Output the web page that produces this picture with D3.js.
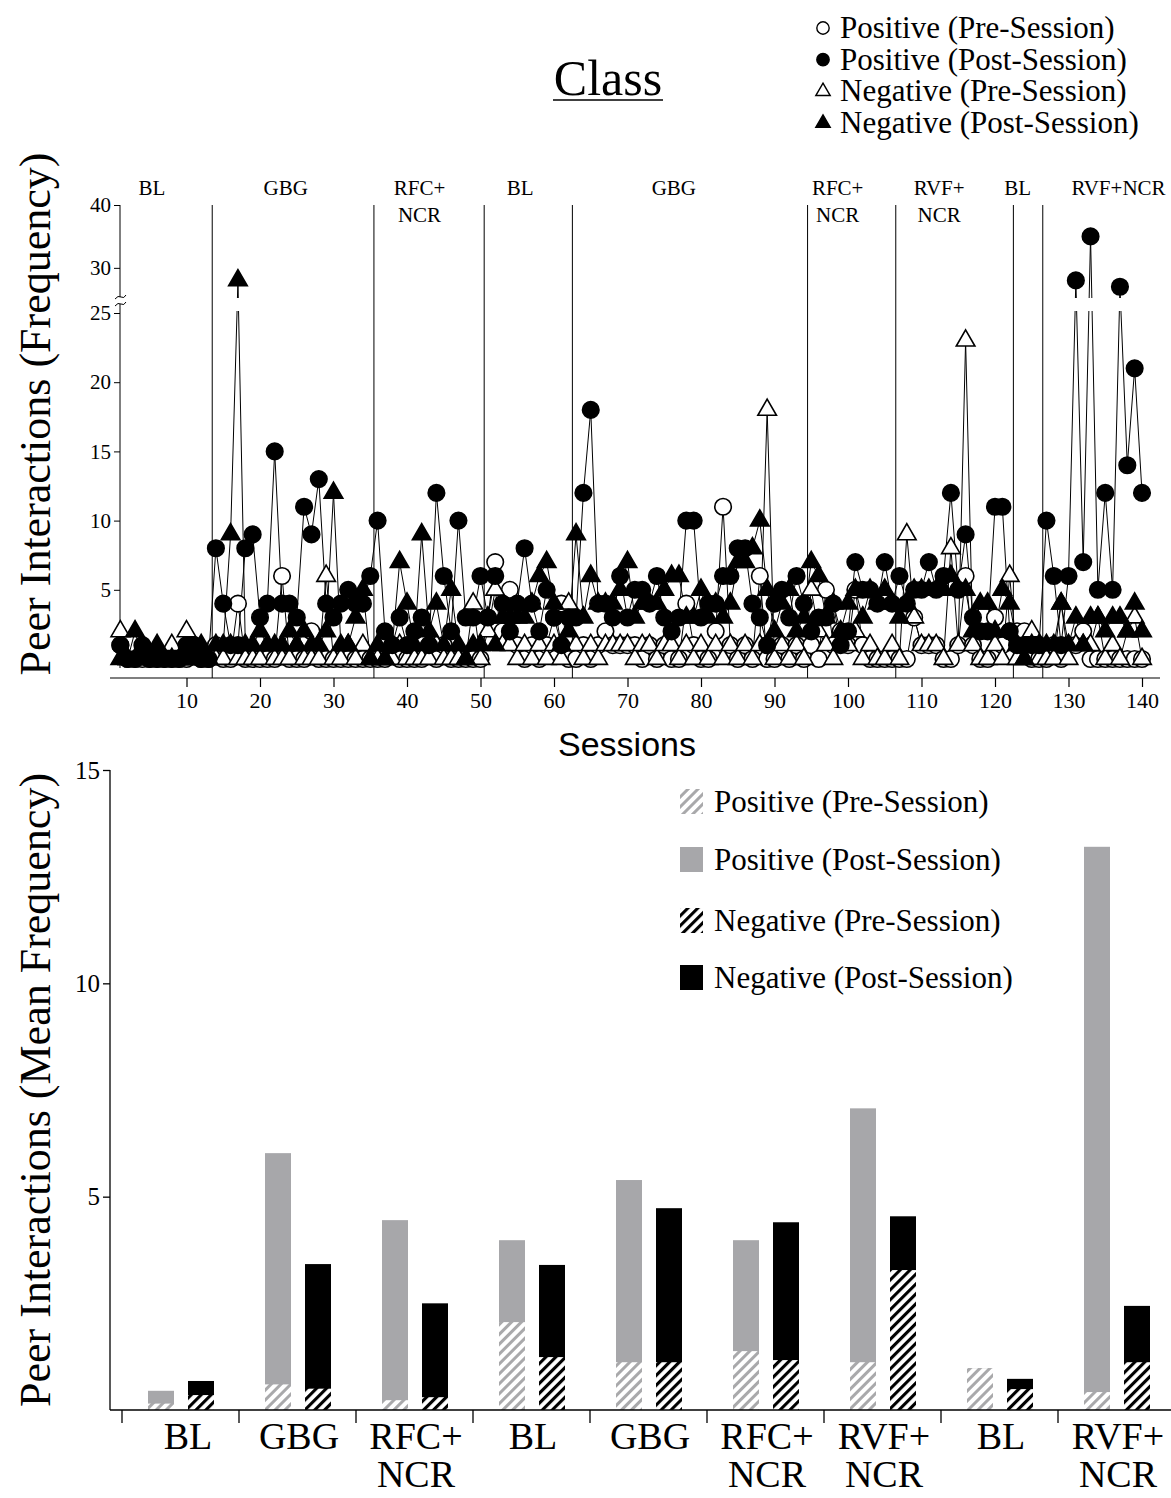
<!DOCTYPE html>
<html>
<head>
<meta charset="utf-8">
<title>Class - Peer Interactions</title>
<script src="https://cdn.jsdelivr.net/npm/d3@7"></script>
<style>
body { margin: 0; background: #fff; }
text { font-family: "Liberation Serif", "Times New Roman", serif; fill: #000; }
.sans { font-family: "Liberation Sans", Arial, sans-serif; }
</style>
</head>
<body>
<svg id="chart" width="1171" height="1498"></svg>
<script>
// ---- phases (top panel) ----
var phaseNames   = ["BL", "GBG", "RFC+|NCR", "BL", "GBG", "RFC+|NCR", "RVF+|NCR", "BL", "RVF+NCR"];
var phaseLengths = [13, 22, 15, 12, 32, 12, 16, 4, 14];
// session where each phase label sits
var phaseLabelAt = [5.3, 23.5, 41.7, 55.4, 76.3, 98.6, 112.4, 123.1, 136.8];

// ---- session data, sessions 1..140 (one line per phase) ----
var posPre = [].concat(
  [1,0,0,0,0,0,0,0,0,0,1,0,0],
  [1,0,0,4,0,0,0,0,0,6,0,0,0,2,0,0,0,0,0,0,0,0],
  [0,0,1,0,0,0,0,1,0,1,0,0,0,0,0],
  [3,7,2,5,1,0,1,0,1,3,4,0],
  [0,1,0,1,2,1,1,1,1,0,1,0,1,0,0,4,1,0,0,2,11,1,0,1,0,6,0,0,1,0,1,0],
  [1,0,5,1,2,1,5,1,0,0,0,0],
  [0,0,3,1,1,1,0,0,1,6,1,0,0,3,1,2],
  [2,2,0,0],
  [0,1,0,1,1,2,0,0,0,0,0,0,0,0]
);
var posPost = [].concat(
  [1,0,0,1,0,0,0,0,0,1,1,0,0],
  [8,4,1,1,8,9,3,4,15,4,4,3,11,9,13,4,3,4,5,4,4,6],
  [10,2,1,3,1,2,3,1,12,6,2,10,3,3,6],
  [3,6,4,2,4,8,4,2,5,3,1,3],
  [3,12,18,4,4,3,6,3,5,5,4,6,3,2,3,10,10,3,4,4,6,6,8,8,4,3,1,4,5,3,6,4],
  [2,3,3,4,1,2,7,5,5,4,7,4],
  [6,4,5,5,7,5,6,12,5,9,3,2,2,11,11,2],
  [1,1,1,1],
  [10,6,1,6,28,7,35,5,12,5,27,14,21,12]
);
var negPre = [].concat(
  [2,0,0,0,0,0,0,1,0,2,0,0,0],
  [0,0,1,0,0,0,0,1,0,0,0,1,0,0,0,6,0,0,1,0,1,0],
  [0,0,0,1,0,0,0,0,1,0,0,0,0,4,0],
  [2,5,1,1,0,1,0,1,0,1,0,4],
  [1,0,1,0,1,1,1,1,0,1,1,0,1,1,0,1,0,1,0,1,0,1,0,1,0,1,18,0,1,0,1,0],
  [5,2,1,0,1,1,2,0,1,0,0,1],
  [0,9,3,1,1,1,0,8,1,23,1,0,0,1,0,6],
  [0,0,2,0],
  [0,0,4,0,1,1,1,3,0,1,0,2,3,0]
);
var negPost = [].concat(
  [0,0,2,0,0,1,0,0,0,0,0,1,0],
  [1,1,9,28,1,1,2,1,1,1,2,1,2,1,1,2,12,1,1,3,5,0],
  [1,0,1,7,4,1,9,2,4,1,5,1,0,1,1],
  [3,1,3,3,3,3,4,6,7,4,1,2],
  [9,3,6,4,4,4,5,7,3,4,4,4,5,6,6,3,3,5,3,4,3,4,7,7,8,10,5,2,4,5,2,3],
  [7,6,3,4,2,4,5,3,5,4,5,4],
  [3,4,5,5,5,5,5,6,5,5,2,4,4,2,5,4],
  [1,0,1,1],
  [1,1,4,1,3,1,3,3,2,3,3,2,4,2]
);
var sessionTicks = [10,20,30,40,50,60,70,80,90,100,110,120,130,140];
var topYTicks = [5,10,15,20,25,30,40];

// ---- phase means (bottom panel) ----
var barPhases   = ["BL", "GBG", "RFC+|NCR", "BL", "GBG", "RFC+|NCR", "RVF+|NCR", "BL", "RVF+|NCR"];
var posPreMean  = [0.15, 0.60, 0.23, 2.06, 1.12, 1.38, 1.12, 0.98, 0.42];
var posPostMean = [0.45, 6.02, 4.45, 3.98, 5.39, 3.98, 7.07, 0.98, 13.2];
var negPreMean  = [0.35, 0.50, 0.30, 1.24, 1.12, 1.17, 3.28, 0.49, 1.12];
var negPostMean = [0.68, 3.42, 2.50, 3.40, 4.73, 4.40, 4.54, 0.73, 2.44];
var barYTicks = [5, 10, 15];

var svg = d3.select("#chart");
svg.append("rect").attr("width", 1171).attr("height", 1498).attr("fill", "#fff");

var defs = svg.append("defs");
function hatch(id, color, w) {
  var p = defs.append("pattern").attr("id", id)
    .attr("patternUnits", "userSpaceOnUse").attr("width", 7).attr("height", 7)
    .attr("patternTransform", "rotate(45)");
  p.append("rect").attr("width", 7).attr("height", 7).attr("fill", "#fff");
  p.append("line").attr("x1", 1.5).attr("y1", 0).attr("x2", 1.5).attr("y2", 7)
    .attr("stroke", color).attr("stroke-width", w);
}
hatch("hatchLight", "#a9a9ab", 3);
hatch("hatchDark", "#000", 3.2);

// clip that leaves the axis break empty
var clip = defs.append("clipPath").attr("id", "brk");
clip.append("rect").attr("x", 0).attr("y", 0).attr("width", 1171).attr("height", 298);
clip.append("rect").attr("x", 0).attr("y", 311).attr("width", 1171).attr("height", 400);

// ================= TOP PANEL =================
var x = d3.scaleLinear().domain([0, 140]).range([113, 1142]);
var y = d3.scaleLinear().domain([0, 25, 26, 40]).range([659, 313, 293, 205]);

// title + underline
svg.append("text").attr("x", 608).attr("y", 95).attr("text-anchor", "middle")
  .style("font-size", "50px").text("Class");
svg.append("line").attr("x1", 553).attr("x2", 663).attr("y1", 100).attr("y2", 100)
  .attr("stroke", "#000").attr("stroke-width", 1.5);

// phase change lines
var bounds = [], acc = 0;
phaseLengths.forEach(function(n) { bounds.push([acc + 0.5, acc + n + 0.5]); acc += n; });
svg.selectAll(".phaseLine").data(bounds.slice(1)).enter().append("line")
  .attr("x1", function(d) { return x(d[0]); }).attr("x2", function(d) { return x(d[0]); })
  .attr("y1", 205).attr("y2", 678).attr("stroke", "#000").attr("stroke-width", 1);

// phase labels
phaseNames.forEach(function(name, i) {
  name.split("|").forEach(function(t, j) {
    svg.append("text").attr("x", x(phaseLabelAt[i])).attr("y", 195 + j * 27)
      .attr("text-anchor", "middle").style("font-size", "21px").text(t);
  });
});

// axes
svg.append("line").attr("x1", 110).attr("x2", 1160).attr("y1", 678).attr("y2", 678)
  .attr("stroke", "#000").attr("stroke-width", 1.2);
var xAx = svg.append("g").attr("transform", "translate(0,678)")
  .call(d3.axisBottom(x).tickValues(sessionTicks).tickSize(9).tickPadding(5));
xAx.select(".domain").remove();
xAx.selectAll("text").style("font-size", "22px").style("font-family", "Liberation Serif, serif");
xAx.selectAll("line").attr("stroke-width", 1.2);

var yAx = svg.append("g").attr("transform", "translate(120,0)")
  .call(d3.axisLeft(y).tickValues(topYTicks).tickSize(6).tickPadding(3));
yAx.select(".domain").remove();
yAx.selectAll("text").style("font-size", "21px").style("font-family", "Liberation Serif, serif");
svg.append("line").attr("x1", 120).attr("x2", 120).attr("y1", 205).attr("y2", 297).attr("stroke", "#000");
svg.append("line").attr("x1", 120).attr("x2", 120).attr("y1", 304).attr("y2", 668).attr("stroke", "#000");
[297, 304].forEach(function(v) {
  svg.append("path").attr("d", "M115," + (v + 2) + " Q118," + (v - 2) + " 121," + v + " T126," + (v - 2))
    .attr("fill", "none").attr("stroke", "#000").attr("stroke-width", 1);
});

svg.append("text").attr("transform", "translate(50,414) rotate(-90)").attr("text-anchor", "middle")
  .style("font-size", "44px").text("Peer Interactions (Frequency)");
svg.append("text").attr("class", "sans").attr("x", 627).attr("y", 756).attr("text-anchor", "middle")
  .style("font-size", "34px").text("Sessions");

// series, in drawing order
var series = [
  { label: "Positive (Pre-Session)",  values: posPre,  shape: d3.symbolCircle,   fill: "#fff" },
  { label: "Negative (Pre-Session)",  values: negPre,  shape: d3.symbolTriangle, fill: "#fff" },
  { label: "Negative (Post-Session)", values: negPost, shape: d3.symbolTriangle, fill: "#000" },
  { label: "Positive (Post-Session)", values: posPost, shape: d3.symbolCircle,   fill: "#000" }
];
var line = d3.line().x(function(d, i) { return x(i + 1); }).y(function(d) { return y(d); });
var lineG = svg.append("g").attr("clip-path", "url(#brk)");
series.forEach(function(s) {
  lineG.append("path").attr("d", line(s.values)).attr("fill", "none")
    .attr("stroke", "#000").attr("stroke-width", 1);
});
series.forEach(function(s) {
  var sym = d3.symbol().type(s.shape).size(s.shape === d3.symbolCircle ? 215 : 150);
  svg.append("g").selectAll("path").data(s.values).enter().append("path")
    .attr("d", sym)
    .attr("transform", function(d, i) { return "translate(" + x(i + 1) + "," + y(d) + ")"; })
    .attr("fill", s.fill).attr("stroke", "#000").attr("stroke-width", 1.6);
});

// top legend
var legOrder = [0, 3, 1, 2];
legOrder.forEach(function(k, r) {
  var s = series[k], cy = 28 + r * 31.7;
  var sym = d3.symbol().type(s.shape).size(s.shape === d3.symbolCircle ? 120 : 90);
  svg.append("path").attr("d", sym).attr("transform", "translate(823," + cy + ")")
    .attr("fill", s.fill).attr("stroke", "#000").attr("stroke-width", 1.4);
  svg.append("text").attr("x", 840).attr("y", cy + 10).style("font-size", "31px").text(s.label);
});

// ================= BOTTOM PANEL =================
var x2 = d3.scaleBand().domain(d3.range(barPhases.length)).range([122, 1175]);
var y2 = d3.scaleLinear().domain([0, 15]).range([1410, 770]);
var bw = 26;

var barSets = [
  { vals: posPostMean, off: 26, fill: "#a7a7aa" },
  { vals: posPreMean,  off: 26, fill: "url(#hatchLight)" },
  { vals: negPostMean, off: 66, fill: "#000" },
  { vals: negPreMean,  off: 66, fill: "url(#hatchDark)" }
];
barSets.forEach(function(b) {
  svg.append("g").selectAll("rect").data(b.vals).enter().append("rect")
    .attr("x", function(d, i) { return x2(i) + b.off; })
    .attr("y", function(d) { return y2(d); })
    .attr("width", bw)
    .attr("height", function(d) { return y2(0) - y2(d); })
    .attr("fill", b.fill);
});

svg.append("line").attr("x1", 110).attr("x2", 1171).attr("y1", 1410).attr("y2", 1410)
  .attr("stroke", "#000").attr("stroke-width", 1.3);
svg.append("line").attr("x1", 110).attr("x2", 110).attr("y1", 770).attr("y2", 1410)
  .attr("stroke", "#000").attr("stroke-width", 1.3);
var y2Ax = svg.append("g").attr("transform", "translate(110,0)")
  .call(d3.axisLeft(y2).tickValues(barYTicks).tickSize(7).tickPadding(3));
y2Ax.select(".domain").remove();
y2Ax.selectAll("text").style("font-size", "25px").style("font-family", "Liberation Serif, serif");
y2Ax.selectAll("line").attr("stroke-width", 1.3);

svg.selectAll(".catTick").data(barPhases).enter().append("line")
  .attr("x1", function(d, i) { return x2(i); }).attr("x2", function(d, i) { return x2(i); })
  .attr("y1", 1410).attr("y2", 1423).attr("stroke", "#000").attr("stroke-width", 1.3);
barPhases.forEach(function(name, i) {
  name.split("|").forEach(function(t, j) {
    svg.append("text").attr("x", x2(i) + (i === 0 ? 66 : 60)).attr("y", 1449 + j * 38)
      .attr("text-anchor", "middle").style("font-size", "38px").text(t);
  });
});

svg.append("text").attr("transform", "translate(50,1090) rotate(-90)").attr("text-anchor", "middle")
  .style("font-size", "44px").text("Peer Interactions (Mean Frequency)");

// bottom legend
var barLegend = [
  { label: "Positive (Pre-Session)",  fill: "url(#hatchLight)", cy: 801 },
  { label: "Positive (Post-Session)", fill: "#a7a7aa",          cy: 859 },
  { label: "Negative (Pre-Session)",  fill: "url(#hatchDark)",  cy: 920 },
  { label: "Negative (Post-Session)", fill: "#000",             cy: 977 }
];
barLegend.forEach(function(l) {
  svg.append("rect").attr("x", 680).attr("y", l.cy - 12).attr("width", 23).attr("height", 25)
    .attr("fill", l.fill);
  svg.append("text").attr("x", 714).attr("y", l.cy + 11).style("font-size", "31px").text(l.label);
});
</script>
</body>
</html>
